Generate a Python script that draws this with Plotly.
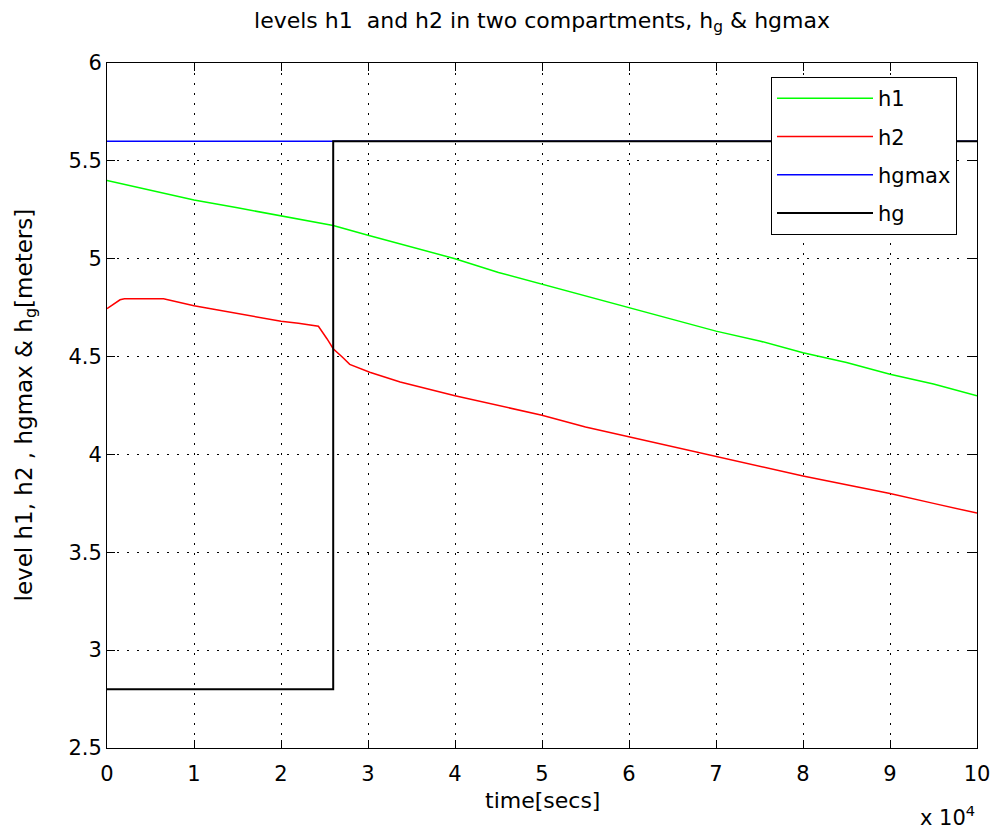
import plotly.graph_objects as go

# ---- data (time in seconds) ----
t_h1 = [0, 5000, 10000, 15000, 20000, 26000, 30000, 35000, 40000, 45000, 50000,
        55000, 60000, 65000, 70000, 75000, 80000, 85000, 90000, 95000, 100000]
h1 = [5.40, 5.35, 5.30, 5.26, 5.22, 5.17, 5.12, 5.06, 5.00, 4.93, 4.87,
      4.81, 4.75, 4.69, 4.63, 4.58, 4.52, 4.47, 4.41, 4.36, 4.30]

t_h2 = [0, 1500, 2000, 6500, 10000, 15000, 20000, 22000, 24300, 25300, 26000,
        27100, 27900, 30200, 33700, 40000, 45000, 50000, 55000, 60000, 65000,
        70000, 75000, 80000, 85000, 90000, 95000, 100000]
h2 = [4.745, 4.79, 4.795, 4.795, 4.76, 4.72, 4.68, 4.67, 4.655, 4.59, 4.54,
      4.495, 4.46, 4.42, 4.37, 4.30, 4.25, 4.20, 4.14, 4.09, 4.04,
      3.99, 3.94, 3.89, 3.845, 3.80, 3.75, 3.70]

t_hgmax = [0, 100000]
hgmax = [5.6, 5.6]

t_hg = [0, 26000, 100000]
hg = [2.8, 5.6, 5.6]

x_tickvals = [0, 10000, 20000, 30000, 40000, 50000, 60000, 70000, 80000, 90000, 100000]
x_ticktext = ["0", "1", "2", "3", "4", "5", "6", "7", "8", "9", "10"]
y_tickvals = [2.5, 3, 3.5, 4, 4.5, 5, 5.5, 6]
y_ticktext = ["2.5", "3", "3.5", "4", "4.5", "5", "5.5", "6"]

FONT = "DejaVu Sans"

fig = go.Figure()
fig.add_trace(go.Scatter(x=t_h1, y=h1, mode="lines", name="h1", legendgroup="a",
                         line=dict(color="#00ff00", width=1.5)))
fig.add_trace(go.Scatter(x=t_h2, y=h2, mode="lines", name="h2", legendgroup="b",
                         line=dict(color="#ff0000", width=1.5)))
fig.add_trace(go.Scatter(x=t_hgmax, y=hgmax, mode="lines", name="hgmax", legendgroup="c",
                         line=dict(color="#0000ff", width=1.5)))
fig.add_trace(go.Scatter(x=t_hg, y=hg, mode="lines", name="hg", legendgroup="d",
                         line=dict(color="#000000", width=2, shape="hv")))

axis_common = dict(
    showline=True, linecolor="black", linewidth=1, mirror="ticks",
    ticks="inside", ticklen=8, tickcolor="black", tickwidth=1,
    showgrid=True, gridcolor="black", gridwidth=1, griddash="2px,8px",
    zeroline=False, automargin=False,
    tickfont=dict(family=FONT, size=21, color="black"),
)

fig.update_layout(
    width=991, height=832,
    margin=dict(l=107, r=14, t=63, b=84, autoexpand=False),
    paper_bgcolor="white", plot_bgcolor="white",
    font=dict(family=FONT, size=21, color="black"),
    title=dict(text="levels h1  and h2 in two compartments, h<sub>g</sub> & hgmax",
               x=0.5, xanchor="center", xref="paper",
               y=1 - 20 / 832, yanchor="middle", yref="container",
               font=dict(family=FONT, size=22, color="black")),
    xaxis=dict(range=[0, 100000], tickmode="array", tickvals=x_tickvals,
               ticktext=x_ticktext, ticklabelstandoff=7, **axis_common),
    yaxis=dict(range=[2.5, 6], tickmode="array", tickvals=y_tickvals,
               ticktext=y_ticktext, **axis_common),
    legend=dict(x=(771 - 107) / 870, y=(748 - 77) / 685, xanchor="left", yanchor="top",
                bgcolor="white", bordercolor="black", borderwidth=1,
                font=dict(family=FONT, size=21, color="black"),
                itemwidth=96, tracegroupgap=8, traceorder="grouped"),
    showlegend=True,
)

fig.add_annotation(text="time[secs]", xref="paper", yref="paper",
                   x=0.5, y=-52 / 685, xanchor="center", yanchor="middle",
                   showarrow=False, font=dict(family=FONT, size=22, color="black"))
fig.add_annotation(text="level h1, h2 , hgmax & h<sub>g</sub>[meters]", xref="paper", yref="paper",
                   x=-82 / 870, y=0.5, xanchor="center", yanchor="middle", textangle=-90,
                   showarrow=False, font=dict(family=FONT, size=23, color="black"))
fig.add_annotation(text="x 10<sup>4</sup>", xref="paper", yref="paper",
                   x=1.0, y=-68 / 685, xanchor="right", yanchor="middle",
                   showarrow=False, font=dict(family=FONT, size=21, color="black"))

fig.write_html("out.html")
